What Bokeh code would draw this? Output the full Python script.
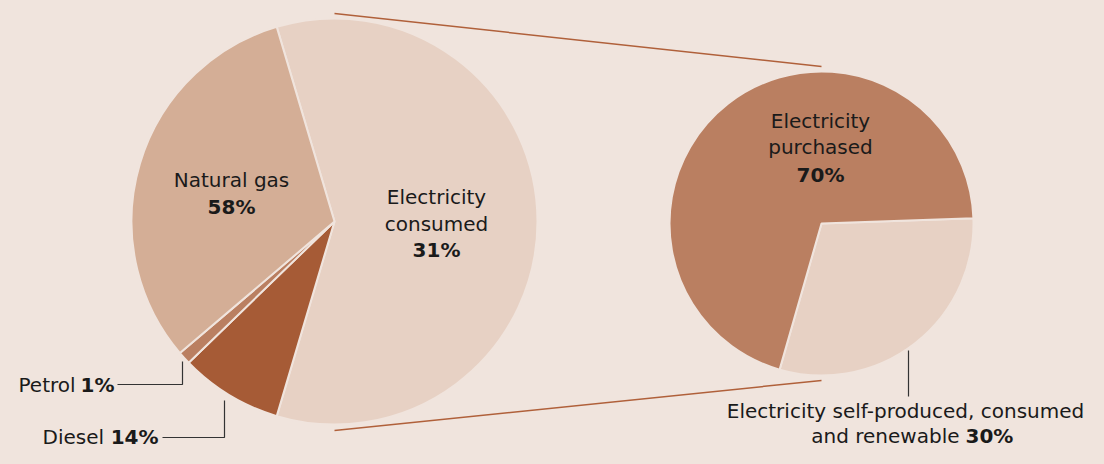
import numpy as np
from bokeh.plotting import figure
from bokeh.models import Range1d, ColumnDataSource
from bokeh.core.properties import value
from bokeh.embed import file_html
from bokeh.resources import INLINE

# ---- data (slice sizes as drawn, labels as printed) ----
left_categories = ["Electricity consumed", "Diesel", "Petrol", "Natural gas"]
left_values = [58, 8, 1, 31]
left_pct_labels = ["31%", "14%", "1%", "58%"]
right_categories = ["Electricity self-produced, consumed and renewable", "Electricity purchased"]
right_values = [30, 70]
right_pct_labels = ["30%", "70%"]

BG = "#f0e4dd"
LEFT_COLORS = ["#e7d1c4", "#a65b36", "#ba7f61", "#d4ae96"]
RIGHT_COLORS = ["#e7d1c4", "#ba7f61"]
FONT = "DejaVu Sans"
TXT = "#1a1a1a"

W, H = 1088, 448

def Y(y):
    return H - y

p = figure(width=W, height=H, output_backend="svg", toolbar_location=None,
           x_range=Range1d(0, W), y_range=Range1d(0, H),
           min_border=0, outline_line_color=None,
           background_fill_color=BG, border_fill_color=BG)
p.axis.visible = False
p.grid.visible = False


def wedges(vals, colors, cx, cy, r, start_deg):
    vals = np.array(vals, dtype=float)
    fr = vals / vals.sum() * 2 * np.pi
    start = np.deg2rad(start_deg) - np.concatenate([[0], np.cumsum(fr)[:-1]])
    end = start - fr
    src = ColumnDataSource(dict(start=start, end=end, color=colors))
    p.wedge(x=cx, y=cy, radius=r, start_angle="start", end_angle="end",
            direction="clock", fill_color="color", line_color=BG, line_width=2,
            source=src)


# left pie: electricity slice centred on the right side
lcx, lcy, lr = 334, Y(221), 203
lfrac0 = left_values[0] / sum(left_values) * 360
wedges(left_values, LEFT_COLORS, lcx, lcy, lr, lfrac0 / 2)

# right pie
rcx, rcy, rr = 821, Y(223), 152
wedges(right_values, RIGHT_COLORS, rcx, rcy, rr, 2)

# connector lines
p.line([lcx, rcx], [lcy + lr + 5, rcy + rr + 5], line_color="#b0603a", line_width=1.5)
p.line([lcx, rcx], [lcy - lr - 6, rcy - rr - 5], line_color="#b0603a", line_width=1.5)

# leader lines
p.line([117, 182, 182], [Y(384), Y(384), Y(361)], line_color="#333333", line_width=1.2)
p.line([162, 224, 224], [Y(437), Y(437), Y(400)], line_color="#333333", line_width=1.2)
p.line([908, 908], [Y(350), Y(396)], line_color="#333333", line_width=1.2)


def txt(x, y, s, bold=False, align="center", size="20px"):
    p.text(x=[x], y=[Y(y)], text=[s], text_font=value(FONT), text_font_size=size,
           text_font_style="bold" if bold else "normal", text_align=align,
           text_baseline="alphabetic", text_color=TXT)


# left pie labels
txt(231, 179, "Natural gas")
txt(231, 206, left_pct_labels[3], bold=True)
txt(436, 196, "Electricity")
txt(436, 223, "consumed")
txt(436, 249, left_pct_labels[0], bold=True)
txt(18, 384, "Petrol", align="left")
txt(114, 384, left_pct_labels[2], bold=True, align="right")
txt(42, 436, "Diesel", align="left")
txt(158, 436, left_pct_labels[1], bold=True, align="right")

# right pie labels
txt(820, 120, "Electricity")
txt(820, 146, "purchased")
txt(820, 174, right_pct_labels[1], bold=True)
txt(905, 410, "Electricity self-produced, consumed")
txt(959, 435, "and renewable", align="right")
txt(965, 435, right_pct_labels[0], bold=True, align="left")

html = file_html(p, INLINE)
html = html.replace("<head>", "<head><style>html,body{background:%s;}</style>" % BG, 1)
open("out.html", "w").write(html)
